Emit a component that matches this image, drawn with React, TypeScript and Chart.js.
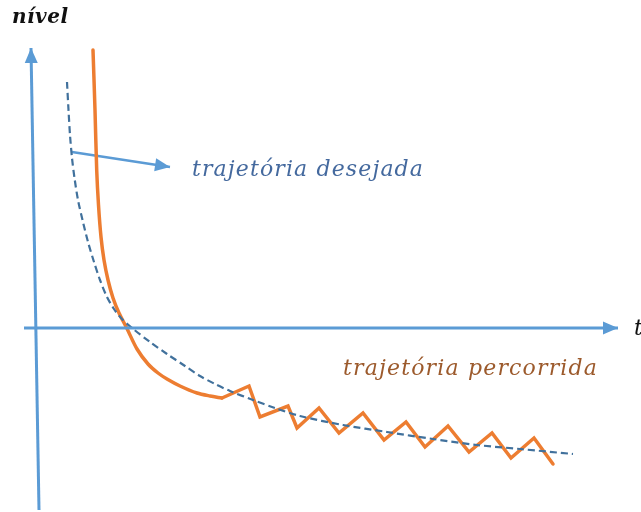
import React, { useEffect, useRef } from "react";
import { Chart, registerables } from "chart.js";

Chart.register(...registerables);

// Curva desejada (tracejada)
const desiredT = [3.1, 3.25, 3.4, 3.6, 3.85, 4.2, 4.7, 5.2, 5.8, 6.4, 7.1, 7.8, 8.5, 9.6, 11.4, 13.1, 14.9, 16.4, 17.9, 19.4, 21.7, 23.9, 26.4, 30.7, 35.1, 39.7, 44.1, 48.4, 53.7];
const desiredN = [24.6, 21.8, 19.3, 17.0, 15.0, 12.8, 10.6, 8.6, 6.6, 4.8, 3.1, 1.9, 1.0, 0, -1.4, -2.6, -3.8, -4.8, -5.6, -6.3, -7.2, -8.0, -8.8, -9.7, -10.4, -11.1, -11.7, -12.1, -12.6];

// Trajetória percorrida: parte suave
const curveT = [5.7, 5.9, 6.07, 6.25, 6.5, 6.8, 7.2, 7.7, 8.3, 9.07, 10.1, 11.2, 12.2, 13.1, 14.4, 16.1, 17.4, 18.6];
const curveN = [27.8, 21.8, 15.8, 12.3, 9.1, 6.8, 4.8, 3.0, 1.5, 0, -2.1, -3.6, -4.5, -5.1, -5.8, -6.5, -6.8, -7.0];

// Trajetória percorrida: ziguezague
const zigT = [18.6, 21.3, 22.4, 25.2, 26.1, 28.3, 30.3, 32.7, 34.8, 37.0, 38.9, 41.2, 43.3, 45.6, 47.5, 49.8, 51.7];
const zigN = [-7.0, -5.8, -8.9, -7.8, -10.0, -8.0, -10.5, -8.5, -11.2, -9.4, -11.9, -9.8, -12.4, -10.5, -13.0, -11.0, -13.6];

// Eixos e seta indicadora
const vAxisT = [0.3, -0.5];
const vAxisN = [-18.2, 28.0];
const hAxisT = [-1.2, 58.2];
const hAxisN = [0, 0];
const pointerT = [3.6, 13.4];
const pointerN = [17.6, 16.1];

// Rótulos
const labelTexts = ["nível", "trajetória desejada", "trajetória percorrida", "t"];
const labelT = [-2.4, 15.6, 30.7, 59.8];
const labelN = [30.5, 15.2, -4.7, -0.7];
const labelEndT = [3.2, 38.7, 56.1, null];

const pts = (xs: number[], ys: number[]) => xs.map((x, i) => ({ x, y: ys[i] }));

const AXIS = "#5b9bd5";
const DASH = "#41719c";
const ORANGE = "#ed7d31";

const arrowPlugin = {
  id: "arrowHeads",
  afterDatasetsDraw(chart: any) {
    const ctx = chart.ctx;
    chart.data.datasets.forEach((ds: any, i: number) => {
      if (!ds.arrow) return;
      const meta = chart.getDatasetMeta(i);
      const n = meta.data.length;
      const a = meta.data[n - 2];
      const b = meta.data[n - 1];
      const ang = Math.atan2(b.y - a.y, b.x - a.x);
      const L = 15;
      const W = 6.5;
      ctx.save();
      ctx.fillStyle = ds.borderColor;
      ctx.beginPath();
      ctx.moveTo(b.x, b.y);
      ctx.lineTo(b.x - L * Math.cos(ang) + W * Math.sin(ang), b.y - L * Math.sin(ang) - W * Math.cos(ang));
      ctx.lineTo(b.x - L * Math.cos(ang) - W * Math.sin(ang), b.y - L * Math.sin(ang) + W * Math.cos(ang));
      ctx.closePath();
      ctx.fill();
      ctx.restore();
    });
  },
};

const labelFonts = [
  "italic bold 20px 'DejaVu Serif'",
  "italic 22px 'DejaVu Serif'",
  "italic 22px 'DejaVu Serif'",
  "italic 22px 'DejaVu Serif'",
];
const labelColors = ["#111111", "#44699e", "#9c5a2c", "#111111"];

const textPlugin = {
  id: "labels",
  afterDraw(chart: any) {
    const ctx = chart.ctx;
    const xs = chart.scales.x;
    const ys = chart.scales.y;
    labelTexts.forEach((txt, i) => {
      ctx.save();
      ctx.font = labelFonts[i];
      ctx.fillStyle = labelColors[i];
      ctx.textAlign = "left";
      ctx.textBaseline = "alphabetic";
      const x0 = xs.getPixelForValue(labelT[i]);
      const y0 = ys.getPixelForValue(labelN[i]);
      const end = labelEndT[i];
      if (end !== null && txt.length > 1) {
        (ctx as any).letterSpacing = "0px";
        const w = ctx.measureText(txt).width;
        const target = xs.getPixelForValue(end) - x0;
        const sp = (target - w) / (txt.length - 1);
        (ctx as any).letterSpacing = `${sp.toFixed(2)}px`;
      }
      ctx.fillText(txt, x0, y0);
      ctx.restore();
    });
  },
};

export default function App() {
  const ref = useRef<HTMLCanvasElement>(null);
  useEffect(() => {
    if (!ref.current) return;
    const chart = new Chart(ref.current, {
      type: "scatter",
      data: {
        datasets: [
          {
            data: pts(vAxisT, vAxisN),
            showLine: true,
            borderColor: AXIS,
            borderWidth: 3,
            pointRadius: 0,
            arrow: true,
          } as any,
          {
            data: pts(hAxisT, hAxisN),
            showLine: true,
            borderColor: AXIS,
            borderWidth: 3,
            pointRadius: 0,
            arrow: true,
          } as any,
          {
            data: pts(desiredT, desiredN),
            showLine: true,
            borderColor: DASH,
            borderWidth: 2.2,
            borderDash: [7, 4],
            pointRadius: 0,
            tension: 0.3,
          },
          {
            data: pts(curveT, curveN),
            showLine: true,
            borderColor: ORANGE,
            borderWidth: 3.5,
            pointRadius: 0,
            borderCapStyle: "round",
            borderJoinStyle: "round",
            tension: 0.3,
          },
          {
            data: pts(zigT, zigN),
            showLine: true,
            borderColor: ORANGE,
            borderWidth: 3.5,
            pointRadius: 0,
            borderCapStyle: "round",
            borderJoinStyle: "miter",
            tension: 0,
          },
          {
            data: pts(pointerT, pointerN),
            showLine: true,
            borderColor: AXIS,
            borderWidth: 2.5,
            pointRadius: 0,
            arrow: true,
          } as any,
        ],
      },
      options: {
        responsive: false,
        animation: false,
        devicePixelRatio: 1,
        layout: { padding: 0 },
        events: [],
        scales: {
          x: { type: "linear", display: false, min: -3.6, max: 60.5 },
          y: { type: "linear", display: false, min: -18.4, max: 32.8 },
        },
        plugins: {
          legend: { display: false },
          tooltip: { enabled: false },
        },
      },
      plugins: [arrowPlugin, textPlugin],
    });
    return () => chart.destroy();
  }, []);

  return (
    <div style={{ position: "absolute", left: 0, top: 0, width: 641, height: 512, background: "#ffffff" }}>
      <canvas ref={ref} width={641} height={512} />
    </div>
  );
}
